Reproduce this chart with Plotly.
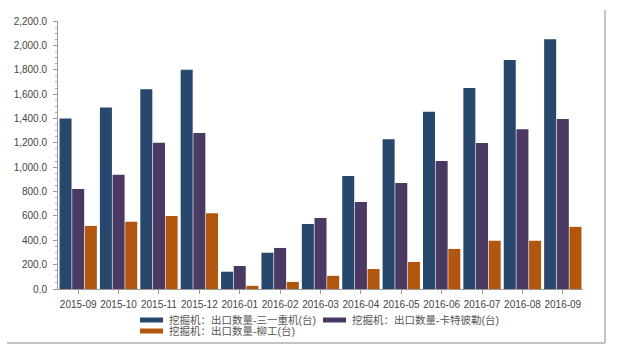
import plotly.graph_objects as go

months = ["2015-09", "2015-10", "2015-11", "2015-12", "2016-01", "2016-02", "2016-03",
          "2016-04", "2016-05", "2016-06", "2016-07", "2016-08", "2016-09"]
sany = [1400, 1490, 1640, 1800, 142, 298, 533, 928, 1230, 1455, 1650, 1880, 2050]
cat = [820, 937, 1200, 1280, 189, 337, 583, 714, 870, 1051, 1198, 1312, 1396]
liugong = [518, 552, 600, 622, 26, 58, 108, 164, 222, 329, 396, 396, 510]

names = ["挖掘机：出口数量-三一重机(台)", "挖掘机：出口数量-卡特彼勒(台)", "挖掘机：出口数量-柳工(台)"]
colors = ["#28476d", "#4a3963", "#b0560f"]
series = [sany, cat, liugong]

FONT = "Liberation Sans, Arial, Noto Sans CJK SC, sans-serif"

L, R, T, B = 58, 44, 21, 66
W, H = 627, 355
pw, ph = W - L - R, H - T - B


def px(xp):
    return (xp - L) / pw


def py(yp):
    return (H - B - yp) / ph


fig = go.Figure()
for vals, nm, col in zip(series, names, colors):
    fig.add_trace(go.Bar(x=months, y=vals, name=nm, marker=dict(color=col, line=dict(width=0)),
                         showlegend=False))

shapes = [
    dict(type="line", xref="paper", yref="paper", x0=px(605), x1=px(605), y0=py(10), y1=py(343),
         line=dict(color="#888", width=1)),
    dict(type="line", xref="paper", yref="paper", x0=px(7), x1=px(605), y0=py(343), y1=py(343),
         line=dict(color="#888", width=1)),
]
annotations = []
legend_pos = [(140, 320), (323, 320), (140, 331)]
for (sx, sy), nm, col in zip(legend_pos, names, colors):
    shapes.append(dict(type="rect", xref="paper", yref="paper",
                       x0=px(sx), x1=px(sx + 23), y0=py(sy - 2.5), y1=py(sy + 2.5),
                       line=dict(width=0), fillcolor=col))
    annotations.append(dict(xref="paper", yref="paper", x=px(sx + 27), y=py(sy),
                            xanchor="left", yanchor="middle", showarrow=False, text=nm,
                            font=dict(size=10.5, color="#555")))

fig.update_layout(
    width=W, height=H,
    margin=dict(l=L, r=R, t=T, b=B, autoexpand=False),
    paper_bgcolor="white", plot_bgcolor="white",
    barmode="group", bargap=0.06, bargroupgap=0.05,
    font=dict(family=FONT, size=10, color="#444"),
    showlegend=False,
    xaxis=dict(type="category", showline=True, linecolor="#999", linewidth=1,
               ticks="outside", ticklen=4, tickcolor="#999", showgrid=False, automargin=False,
               tickangle=0, ticklabelstandoff=2, tickfont=dict(size=10, color="#444")),
    yaxis=dict(range=[0, 2200], dtick=200, tickformat=",.1f", showline=True,
               linecolor="#999", linewidth=1, ticks="outside", ticklen=4, tickcolor="#999",
               showgrid=False, zeroline=False, automargin=False, ticklabelstandoff=4,
               tickfont=dict(size=10, color="#444"),
               minor=dict(ticks="outside", ticklen=2, tickcolor="#aaa", nticks=5)),
    shapes=shapes,
    annotations=annotations,
)

fig.write_html("out.html")
